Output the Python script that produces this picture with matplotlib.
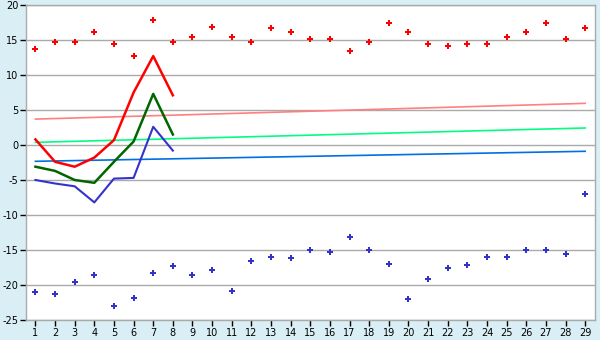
import matplotlib
matplotlib.use("Agg")
import matplotlib.pyplot as plt

plt.rcParams["axes.unicode_minus"] = False

days = list(range(1, 30))

max_points = [13.7, 14.7, 14.7, 16.1, 14.5, 12.7, 17.8, 14.7, 15.5, 16.8,
              15.4, 14.7, 16.7, 16.1, 15.1, 15.2, 13.4, 14.7, 17.4, 16.1,
              14.4, 14.1, 14.4, 14.4, 15.4, 16.2, 17.5, 15.1, 16.7]
min_points = [-21.0, -21.3, -19.5, -18.6, -23.0, -21.8, -18.3, -17.3, -18.6, -17.9,
              -20.8, -16.6, -16.0, -16.2, -15.0, -15.3, -13.2, -15.0, -17.0, -22.0,
              -19.2, -17.5, -17.2, -16.0, -16.0, -15.0, -15.0, -15.5, -7.0]

line_days = [1, 2, 3, 4, 5, 6, 7, 8]
line_max = [0.8, -2.4, -3.1, -1.8, 0.7, 7.5, 12.7, 7.1]
line_mean = [-3.1, -3.7, -5.0, -5.4, -2.4, 0.5, 7.3, 1.5]
line_min = [-5.0, -5.5, -5.9, -8.2, -4.8, -4.7, 2.6, -0.8]

trend_days = [1, 29]
trend_max = [3.7, 5.95]
trend_mean = [0.38, 2.43]
trend_min = [-2.33, -0.9]

yticks = [-25, -20, -15, -10, -5, 0, 5, 10, 15, 20]

fig = plt.figure(figsize=(6, 3.4), dpi=100)
fig.patch.set_facecolor("#d9eff5")
ax = fig.add_axes([26 / 600, 1 - 320 / 340, 569 / 600, 315 / 340])
ax.set_facecolor("white")

for v in yticks:
    ax.axhline(v, color="#aaaaaa", lw=1, zorder=1)

ax.plot(trend_days, trend_max, color="#ff8080", lw=1.2, zorder=2)
ax.plot(trend_days, trend_mean, color="#00ff80", lw=1.2, zorder=2)
ax.plot(trend_days, trend_min, color="#0070e0", lw=1.2, zorder=2)

ax.plot(line_days, line_max, color="#ff0000", lw=1.8, zorder=3)
ax.plot(line_days, line_mean, color="#006600", lw=1.8, zorder=3)
ax.plot(line_days, line_min, color="#3333cc", lw=1.5, zorder=3)

ax.plot(days, max_points, ls="none", marker="P", ms=5, color="#ff0000",
        markeredgewidth=0, zorder=4)
ax.plot(days, min_points, ls="none", marker="P", ms=5, color="#3333cc",
        markeredgewidth=0, zorder=4)

ax.set_xlim(0.52, 29.5)
ax.set_ylim(-25, 20)
ax.set_xticks(days)
ax.set_yticks(yticks)
ax.tick_params(axis="both", labelsize=7, length=4, width=1, color="black",
               direction="out", pad=2)
ax.tick_params(axis="y", pad=1.5)
for s in ax.spines.values():
    s.set_color("#aaaaaa")
    s.set_linewidth(1)

fig.savefig("out.png", dpi=100, facecolor=fig.get_facecolor())
